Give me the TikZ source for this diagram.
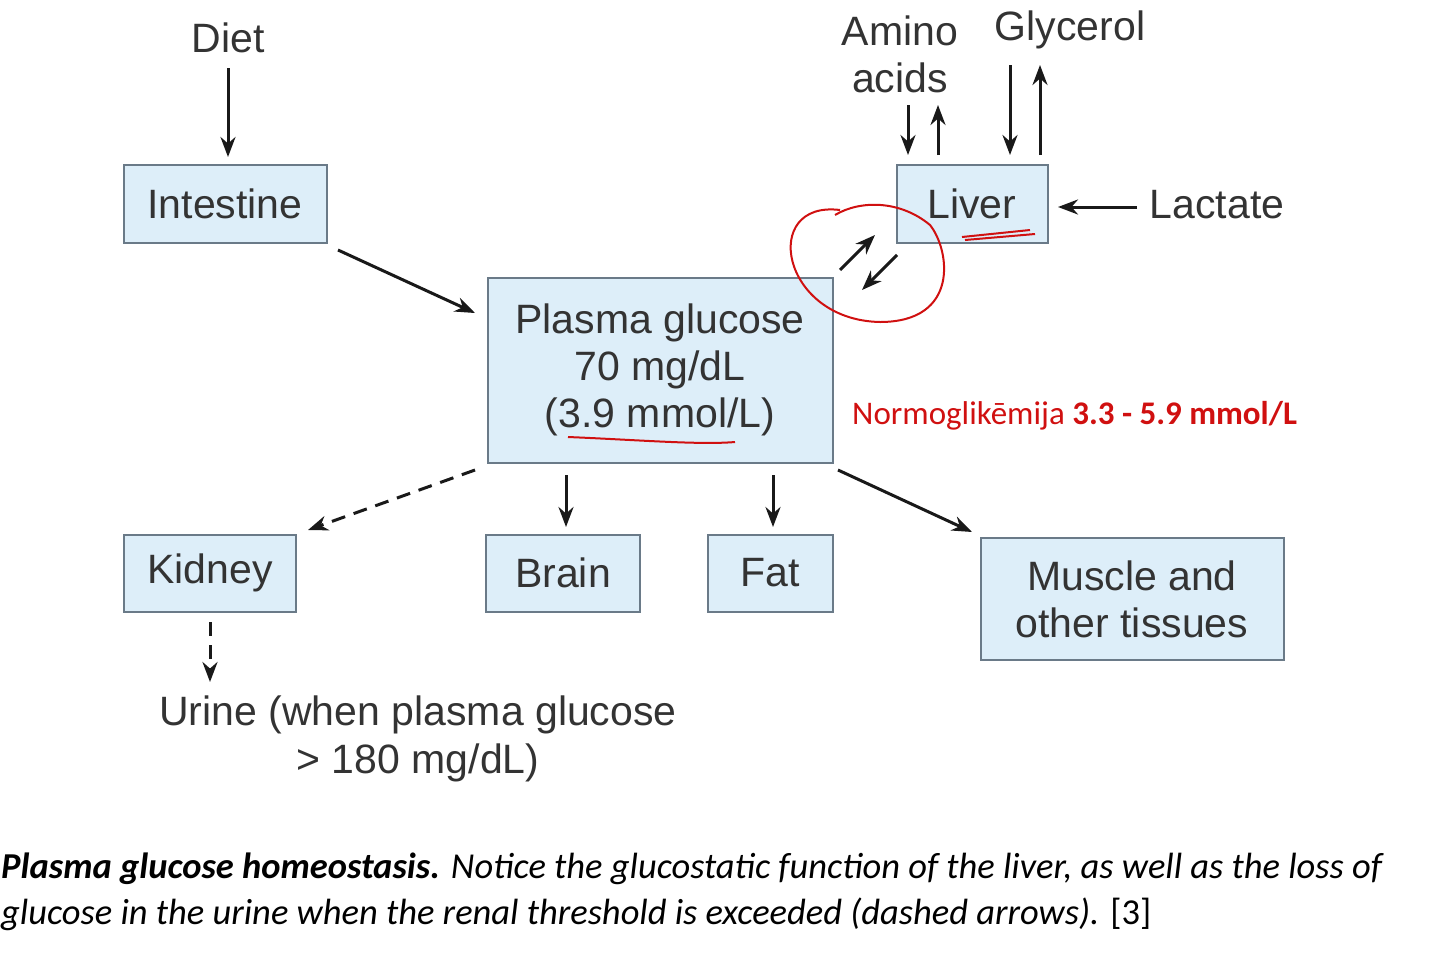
\documentclass[tikz,border=0pt]{standalone}
\usepackage{fontspec}
\setmainfont{Liberation Sans}
\newfontfamily\carl{Carlito}
\usetikzlibrary{arrows.meta}
\definecolor{boxfill}{HTML}{DDEEF9}
\definecolor{boxline}{HTML}{6A7A88}
\definecolor{txt}{HTML}{333333}
\definecolor{redc}{HTML}{D01010}
\begin{document}
\begin{tikzpicture}[x=1pt,y=-1pt,
  box/.style={draw=boxline,line width=2pt,fill=boxfill,text=txt,inner sep=0pt,font=\fontsize{41}{47}\selectfont,align=center},
  lab/.style={text=txt,font=\fontsize{41}{47}\selectfont,align=center,inner sep=0pt},
  arr/.style={line width=3pt,-{Stealth[length=20pt,width=15pt]},black!90},
  dsh/.style={arr,dash pattern=on 14pt off 9pt}]
\useasboundingbox (0,0) rectangle (1440,959);
\node[box,minimum width=203pt,minimum height=78pt] (int) at (225,204) {Intestine};
\node[box,minimum width=151pt,minimum height=78pt] (liv) at (972,204) {Liver};
\node[box,minimum width=345pt,minimum height=185pt] (pla) at (660,370) {Plasma glucose\\70 mg/dL\\(3.9 mmol/L)};
\node[box,minimum width=172pt,minimum height=77pt] (kid) at (210,573) {Kidney};
\node[box,minimum width=154pt,minimum height=77pt] (bra) at (563,573) {Brain};
\node[box,minimum width=125pt,minimum height=77pt] (fat) at (770,573) {Fat};
\node[box,minimum width=303pt,minimum height=122pt] (mus) at (1132,599) {Muscle and\\other tissues};
\node[lab] (diet) at (228,38) {Diet};
\node[lab] (ami) at (900,54) {Amino\\acids};
\node[lab] (gly) at (1070,30) {Glycerol};
\node[lab] (lac) at (1217,205) {Lactate};
\node[lab,font=\fontsize{41}{48}\selectfont] (uri) at (418,739) {Urine (when plasma glucose\\> 180 mg/dL)};
\coordinate (dietb) at (228,68);
\coordinate (urit) at (210,682);
\draw[arr] (dietb) -- (228,157);
\draw[arr] (338,250) -- (475,313);
\draw[dsh] (475,470) -- (308,530);
\draw[dsh] (210,622) -- (urit);
\draw[arr] (566,475) -- (566,527);
\draw[arr] (773,475) -- (773,527);
\draw[arr] (838,470) -- (972,532);
\draw[arr] (840,270) -- (875,235);
\draw[arr] (897,255) -- (862,290);
\draw[arr] (908,105) -- (908,155);
\draw[arr] (938,155) -- (938,105);
\draw[arr] (1010,65) -- (1010,155);
\draw[arr] (1040,155) -- (1040,65);
\draw[arr] (1137,207) -- (1058,207);
\draw[redc,line width=2pt] (840,210) .. controls (760,200) and (780,320) .. (880,322) .. controls (960,322) and (950,250) .. (930,225) .. controls (900,200) and (860,200) .. (835,215);
\draw[redc,line width=2pt] (962,237) -- (1030,230) (965,240) -- (1035,234);
\draw[redc,line width=2pt] (568,437) .. controls (640,440) and (700,445) .. (735,442);
\node[anchor=west,text=redc,inner sep=0pt,font=\carl\fontsize{33}{36}\selectfont] (nor) at (852,416) {Normoglikēmija \textbf{3.3 - 5.9 mmol/L}};
\node[anchor=west,inner sep=0pt,align=left,font=\carl\fontsize{36.5}{46}\selectfont] (cap) at (1,892) {\textbf{\itshape Plasma glucose homeostasis.} \itshape Notice the glucostatic function of the liver, as well as the loss of\\\itshape glucose in the urine when the renal threshold is exceeded (dashed arrows). \upshape [3]};
\end{tikzpicture}
\end{document}
